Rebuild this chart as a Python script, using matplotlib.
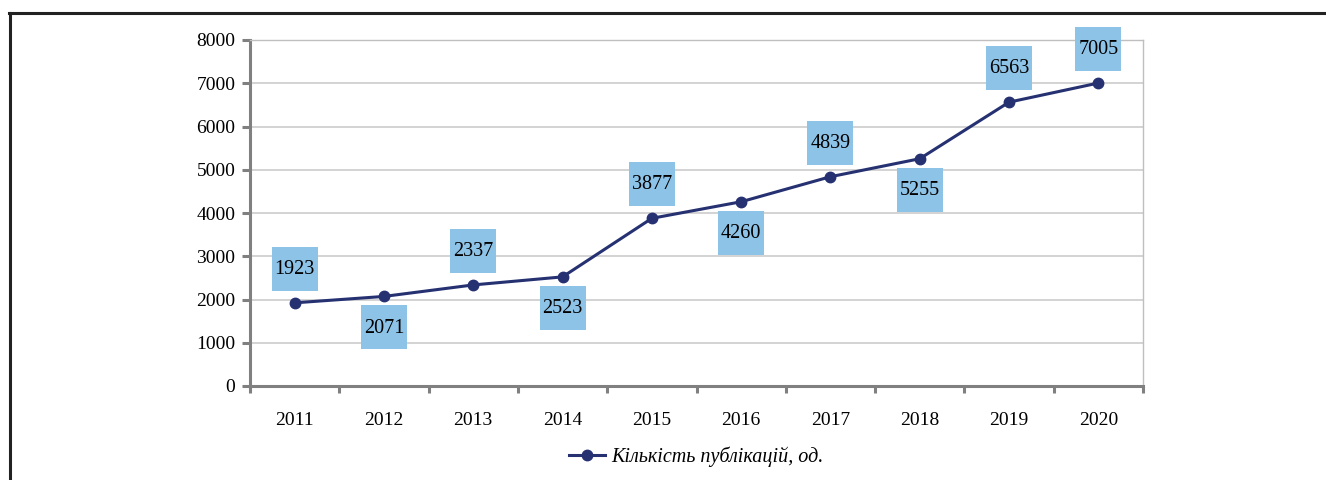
import matplotlib.pyplot as plt
from matplotlib.lines import Line2D
from matplotlib.patches import Rectangle
from matplotlib.text import Text
from matplotlib.offsetbox import AnnotationBbox, DrawingArea


years = ["2011", "2012", "2013", "2014", "2015", "2016", "2017", "2018", "2019", "2020"]
counts = [1923, 2071, 2337, 2523, 3877, 4260, 4839, 5255, 6563, 7005]
label_side = ["above", "below", "above", "below", "above", "below", "above", "below", "above", "above"]
series_name = "Кількість публікацій, од."

LINE_COLOR = "#263172"
BOX_COLOR = "#8EC3E8"
AXIS_GRAY = "#808080"
GRID_GRAY = "#c8c8c8"

plt.rcParams.update(
    {
        "font.family": ["Liberation Serif", "DejaVu Serif"],
        "font.size": 14,
    }
)

fig = plt.figure(figsize=(13.26, 4.8), dpi=100)
ax = fig.add_axes([250 / 1326, 1 - 386 / 480, (1143 - 250) / 1326, (386 - 40) / 480])

x = list(range(len(years)))
ax.plot(x, counts, color=LINE_COLOR, lw=2.2, marker="o", ms=7.5, zorder=3, label=series_name)

# data labels in fixed-size blue boxes
box_w, box_h = 46 * 0.72, 44 * 0.72
for xi, v, side in zip(x, counts, label_side):
    da = DrawingArea(box_w, box_h, 0, 0)
    da.add_artist(Rectangle((0, 0), box_w, box_h, facecolor=BOX_COLOR, edgecolor="none"))
    da.add_artist(Text(box_w / 2, box_h / 2 - 0.5, str(v), ha="center", va="center", fontsize=14.5))
    dy = 24.5 if side == "above" else -22.3
    ab = AnnotationBbox(da, (xi, v), xybox=(0, dy), xycoords="data", boxcoords="offset points",
                        frameon=False, pad=0, box_alignment=(0.5, 0.5), zorder=4)
    ax.add_artist(ab)

ax.set_xlim(-0.5, len(years) - 0.5)
ax.set_ylim(0, 8000)
ax.set_yticks(range(0, 8001, 1000))
ax.grid(True, axis="y", color=GRID_GRAY, lw=1.1)
ax.set_axisbelow(True)

ax.set_xticks(x)
ax.set_xticklabels(years)
ax.set_xticks([i - 0.5 for i in range(len(years) + 1)], minor=True)
ax.tick_params(axis="x", which="major", length=0, pad=19)
ax.tick_params(axis="x", which="minor", length=5, width=2.2, color=AXIS_GRAY, direction="out")
ax.tick_params(axis="y", length=5.5, width=2.2, color=AXIS_GRAY, pad=5)

for s in ("left", "bottom"):
    ax.spines[s].set_color(AXIS_GRAY)
    ax.spines[s].set_linewidth(2.2)
for s in ("top", "right"):
    ax.spines[s].set_color("#bfbfbf")
    ax.spines[s].set_linewidth(1)

fig.legend(
    loc="center",
    bbox_to_anchor=(0.525, 1 - 457 / 480),
    frameon=False,
    prop={"style": "italic", "size": 14.5},
    handlelength=1.8,
    handletextpad=0.3,
)

# outer frame (top and left edges visible)
fig.add_artist(Line2D([9 / 1326, 1], [1 - 13 / 480, 1 - 13 / 480], transform=fig.transFigure, color="#222222", lw=2.2))
fig.add_artist(Line2D([10 / 1326, 10 / 1326], [0, 1 - 13 / 480], transform=fig.transFigure, color="#222222", lw=2.2))

fig.savefig("out.png", dpi=100)
